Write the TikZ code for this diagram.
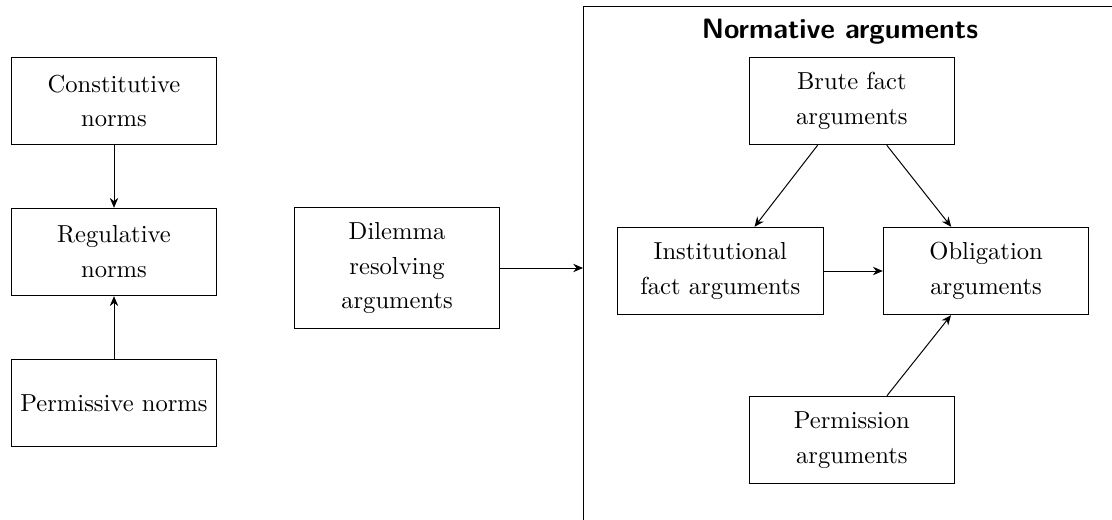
\documentclass[tikz,border=0pt]{standalone}
\usepackage{tikz}
\usetikzlibrary{calc}
\usetikzlibrary{arrows.meta}

\begin{document}
\begin{tikzpicture}[
  normbox/.style={draw, align=center, text width=2.8cm, inner xsep=2pt, inner ysep=6pt,
    minimum height=1.25cm, font=\fontsize{10}{14.2}\selectfont},
  title/.style={font=\fontsize{11.4}{14}\selectfont\sffamily\bfseries, anchor=base},
  >={Stealth[length=4pt,width=3.4pt]}
]
\useasboundingbox (0,0) rectangle (15.9,-7.421);

% left column
\node[normbox] (constitutive) at (1.63,-1.444) {Constitutive\\norms};
\node[normbox] (regulative) at (1.63,-3.603) {Regulative\\norms};
\node[normbox] (permissive) at (1.63,-5.762) {Permissive norms};

\draw[->] (constitutive) -- (regulative);
\draw[->] (permissive) -- (regulative);

% middle
\node[normbox] (dilemma) at (5.677,-3.832) {Dilemma\\resolving\\arguments};

% normative arguments frame
\draw (8.337,-9) -- (8.337,-0.086) -- (17,-0.086);
\node[title] (normative) at (12.01,-0.55) {Normative arguments};
\coordinate (frameleft) at (8.337,-3.832);

\node[normbox] (brute) at (12.18,-1.444) {Brute fact\\arguments};
\node[normbox] (institutional) at (10.30,-3.875) {Institutional\\fact arguments};
\node[normbox] (obligation) at (14.10,-3.875) {Obligation\\arguments};
\node[normbox] (permission) at (12.18,-6.29) {Permission\\arguments};

\draw[->] (dilemma) -- (frameleft);
\draw[->] (brute) -- (institutional);
\draw[->] (brute) -- (obligation);
\draw[->] (institutional) -- (obligation);
\draw[->] (permission) -- (obligation);
\end{tikzpicture}
\end{document}
